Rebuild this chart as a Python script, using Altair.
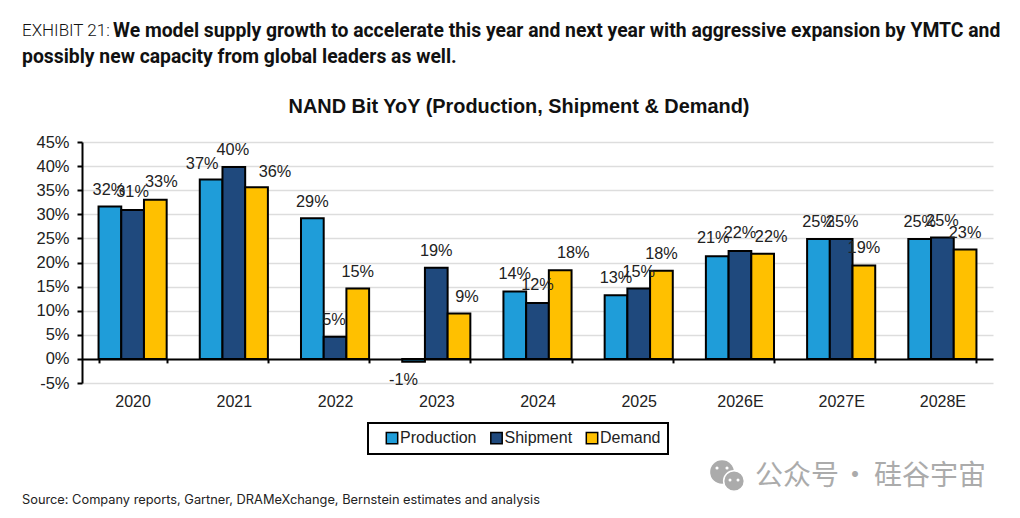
import altair as alt
import pandas as pd

YEARS = ["2020", "2021", "2022", "2023", "2024", "2025", "2026E", "2027E", "2028E"]
SERIES = ["Production", "Shipment", "Demand"]
PRODUCTION = [31.6, 37.2, 29.2, -0.6, 14.0, 13.2, 21.3, 24.9, 24.9]
SHIPMENT = [30.9, 39.8, 4.6, 18.9, 11.6, 14.6, 22.4, 24.9, 25.2]
DEMAND = [33.0, 35.6, 14.6, 9.4, 18.4, 18.3, 21.8, 19.4, 22.7]
COLORS = ["#1F9DD9", "#1F497D", "#FFC000"]
Y_TICKS = [-5, 0, 5, 10, 15, 20, 25, 30, 35, 40, 45]

# label nudges (dx, dy) where the reference's labels differ from the default
DEFAULT_NUDGE = (0, -17)
NUDGES = {
    ("2020", "Production"): (-1, -17), ("2020", "Shipment"): (0, -18), ("2020", "Demand"): (6, -18),
    ("2021", "Production"): (-9, -16), ("2021", "Shipment"): (-1, -17), ("2021", "Demand"): (18.5, -15),
    ("2022", "Production"): (0, -16), ("2022", "Shipment"): (-1, -17),
    ("2023", "Production"): (-10, 18), ("2023", "Demand"): (8, -17),
    ("2024", "Shipment"): (0, -18), ("2024", "Demand"): (13, -17),
    ("2026E", "Production"): (-4, -18), ("2026E", "Shipment"): (0, -18), ("2026E", "Demand"): (8.5, -17),
    ("2027E", "Shipment"): (1, -17),
    ("2028E", "Shipment"): (0, -16), ("2028E", "Demand"): (0, -16),
}

rows = []
for name, values in zip(SERIES, [PRODUCTION, SHIPMENT, DEMAND]):
    for year, v in zip(YEARS, values):
        rows.append({"year": year, "series": name, "value": v, "label": f"{round(v)}%"})
df = pd.DataFrame(rows)

PW, PH = 911, 241
x_scale = alt.Scale(domain=YEARS, paddingInner=0.327, paddingOuter=0.1635)
y_scale = alt.Scale(domain=[-5, 45], nice=False)
x = alt.X("year:N", sort=YEARS, title=None, scale=x_scale,
          axis=alt.Axis(labelAngle=0, offset=-24.1, tickBand="extent", domainColor="#000", domainWidth=2,
                        tickColor="#000", tickWidth=2, tickSize=4, labelPadding=31, labelFontSize=16,
                        labelFont="Liberation Sans", labelColor="#222", grid=False, zindex=2))
y = alt.Y("value:Q", title=None, scale=y_scale,
          axis=alt.Axis(values=Y_TICKS, labelExpr="datum.value + '%'", domainColor="#000",
                        domainWidth=2, tickColor="#000", tickWidth=2, tickSize=5, labelFontSize=16.5,
                        labelFont="Liberation Sans", labelColor="#222", labelPadding=8, labelOverlap=False,
                        grid=True, gridColor="#DDDDDD", gridWidth=1.5))
offset = alt.XOffset("series:N", sort=SERIES, scale=alt.Scale(paddingInner=0, paddingOuter=0))

bars = alt.Chart(df).mark_bar(stroke="#000", strokeWidth=2, clip=False).encode(
    x=x, y=y, xOffset=offset,
    color=alt.Color("series:N", sort=SERIES, scale=alt.Scale(domain=SERIES, range=COLORS), title=None,
                    legend=alt.Legend(orient="none", legendX=286, legendY=281, direction="horizontal", columns=3,
                                      fillColor="#fff", strokeColor="#000", padding=7, symbolType="square",
                                      symbolSize=130, symbolStrokeColor="#000", symbolStrokeWidth=1.5,
                                      symbolOffset=9, labelFontSize=16, labelFont="Liberation Sans",
                                      labelColor="#222", labelOffset=0, columnPadding=2.5, offset=0)),
)

label_layers = []
for rec in rows:
    dx, dy = NUDGES.get((rec["year"], rec["series"]), DEFAULT_NUDGE)
    label_layers.append(
        alt.Chart(pd.DataFrame([rec])).mark_text(
            dx=dx, dy=dy, font="Liberation Sans", fontSize=16.3, color="#222", baseline="middle"
        ).encode(x=x, y=y, xOffset=offset, text="label:N")
    )


def note(text, px, py, **style):
    return alt.Chart(pd.DataFrame({"t": [text]})).mark_text(align=style.pop("align", "left"), baseline="middle", **style).encode(
        x=alt.value(px - 82), y=alt.value(py - 142), text="t:N")


def dot(px, py, size, color, stroke=None):
    style = {"stroke": stroke, "strokeWidth": 1.5} if stroke else {}
    return alt.Chart(pd.DataFrame({"d": [0]})).mark_circle(size=size, color=color, opacity=1, **style).encode(
        x=alt.value(px - 82), y=alt.value(py - 142))


TITLE = "NAND Bit YoY (Production, Shipment & Demand)"
EXHIBIT = "EXHIBIT 21:"
HEAD_1 = "We model supply growth to accelerate this year and next year with aggressive expansion by YMTC and"
HEAD_2 = "possibly new capacity from global leaders as well."
SOURCE = "Source: Company reports, Gartner, DRAMeXchange, Bernstein estimates and analysis"
WM_A, WM_DOT, WM_B = "公众号", "·", "硅谷宇宙"

GREY = "#ABABAB"
notes = [
    note(TITLE, 519, 107, align="center", font="Liberation Sans", fontSize=19.9, fontWeight="bold", color="#111"),
    note(EXHIBIT, 22, 31, font="Roboto", fontSize=17, fontWeight=300, color="#111"),
    note(HEAD_1, 113, 31, font="Roboto", fontSize=19.35, fontWeight="bold", color="#111"),
    note(HEAD_2, 22, 57, font="Roboto", fontSize=19.35, fontWeight="bold", color="#111"),
    note(SOURCE, 22, 500, font="Inter", fontSize=12.8, color="#222"),
    note(WM_A, 755, 477, font="Noto Sans CJK SC", fontSize=28, color=GREY),
    note(WM_DOT, 855, 477, align="center", font="Noto Sans CJK SC", fontSize=28, color=GREY),
    note(WM_B, 874, 477, font="Noto Sans CJK SC", fontSize=28, color=GREY),
    dot(722, 472, 560, GREY),
    dot(734, 481, 430, GREY, stroke="#fff"),
    dot(717, 468, 10, "#fff"),
    dot(727, 468, 10, "#fff"),
    dot(730, 480, 9, "#fff"),
    dot(738, 480, 9, "#fff"),
]

chart = alt.layer(bars, *label_layers, *notes).properties(
    width=PW, height=PH,
    padding={"left": 74, "top": 134, "right": 19, "bottom": 127},
    autosize=alt.AutoSizeParams(type="none"),
    background="#fff",
).configure_view(stroke=None).configure_legend(strokeWidth=2)

chart.save("out.html", embed_options={"renderer": "svg", "actions": False})
